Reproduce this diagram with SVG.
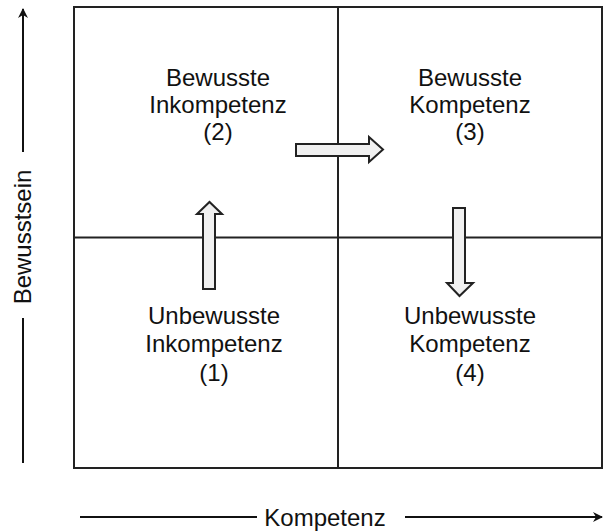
<svg xmlns="http://www.w3.org/2000/svg" width="604" height="531" viewBox="0 0 604 531">
<defs>
<style>
text{font-family:"Liberation Sans",Arial,sans-serif;font-size:24px;fill:#111;text-anchor:middle}
.grid{fill:none;stroke:#222;stroke-width:2}
.arr{fill:#f0f0f0;stroke:#222;stroke-width:2;stroke-linejoin:miter}
.axis{stroke:#111;stroke-width:2;fill:none}
</style>
<marker id="ah" viewBox="0 0 10 10" refX="9" refY="5" markerWidth="5" markerHeight="5" orient="auto" markerUnits="strokeWidth">
<path d="M0,0 L10,5 L0,10 L3,5 z" fill="#111"/>
</marker>
</defs>
<rect width="604" height="531" fill="#fff"/>
<g id="grid">
<rect class="grid" x="74" y="7" width="528" height="461"/>
<line class="grid" x1="338" y1="7" x2="338" y2="468"/>
<line class="grid" x1="74" y1="237.5" x2="602" y2="237.5"/>
</g>
<g id="q2">
<text x="218" y="86">Bewusste</text>
<text x="218" y="113">Inkompetenz</text>
<text x="218" y="140">(2)</text>
</g>
<g id="q3">
<text x="470" y="86">Bewusste</text>
<text x="470" y="113">Kompetenz</text>
<text x="470" y="140">(3)</text>
</g>
<g id="q1">
<text x="214" y="324">Unbewusste</text>
<text x="214" y="352">Inkompetenz</text>
<text x="214" y="381">(1)</text>
</g>
<g id="q4">
<text x="470" y="324">Unbewusste</text>
<text x="470" y="352">Kompetenz</text>
<text x="470" y="381">(4)</text>
</g>
<g id="connectors">
<path class="arr" d="M296,144 H369 V137 L383,149.5 L369,162 V156 H296 Z"/>
<path class="arr" d="M203,289 V214 H197 L209.5,202 L222,214 H215 V289 Z"/>
<path class="arr" d="M453,208 H465 V283 H473 L459.5,296 L447,283 H453 Z"/>
</g>
<g id="axes">
<line class="axis" x1="23" y1="152" x2="23" y2="9" marker-end="url(#ah)"/>
<line class="axis" x1="23" y1="318" x2="23" y2="463"/>
<text transform="translate(31,237) rotate(-90)">Bewusstsein</text>
<line class="axis" x1="80" y1="517" x2="257" y2="517"/>
<text x="325" y="526">Kompetenz</text>
<line class="axis" x1="405" y1="517" x2="602" y2="517" marker-end="url(#ah)"/>
</g>
</svg>
